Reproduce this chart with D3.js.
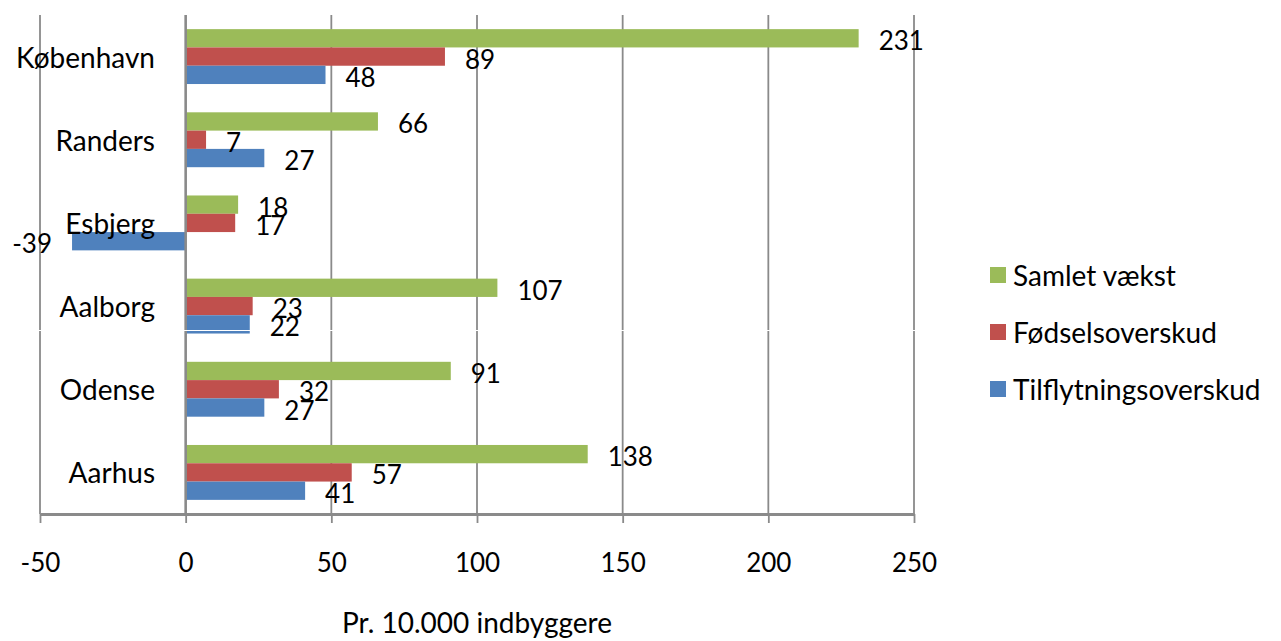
<!DOCTYPE html>
<html>
<head>
<meta charset="utf-8">
<script src="https://cdn.jsdelivr.net/npm/d3@7"></script>
<style>
  body { margin: 0; background: #fff; }
  text { font-family: Lato, "Open Sans", sans-serif; fill: #000; }
</style>
</head>
<body>
<div id="chart"></div>
<script>
var cities = ["København", "Randers", "Esbjerg", "Aalborg", "Odense", "Aarhus"];
var seriesNames = ["Samlet vækst", "Fødselsoverskud", "Tilflytningsoverskud"];
var samletVaekst = [231, 66, 18, 107, 91, 138];
var foedselsoverskud = [89, 7, 17, 23, 32, 57];
var tilflytningsoverskud = [48, 27, -39, 22, 27, 41];
var xTicks = [-50, 0, 50, 100, 150, 200, 250];
var colors = ["#9BBB59", "#C0504D", "#4F81BD"];

var width = 1281, height = 641,
    plotLeft = 40, plotRight = 914, plotTop = 15, plotBottom = 514;

var svg = d3.select("#chart").append("svg")
    .attr("width", width)
    .attr("height", height);

var x = d3.scaleLinear().domain([-50, 250]).range([plotLeft, plotRight]);
var y = d3.scaleBand().domain(cities).range([plotTop, plotBottom])
    .paddingInner(0.34).paddingOuter(0.17);
var ys = d3.scaleBand().domain(seriesNames).range([0, y.bandwidth()]);
var color = d3.scaleOrdinal().domain(seriesNames).range(colors);

var values = [samletVaekst, foedselsoverskud, tilflytningsoverskud];
var data = [];
cities.forEach(function(c, i) {
  seriesNames.forEach(function(s, j) {
    data.push({ city: c, series: s, value: values[j][i] });
  });
});

// gridlines
svg.append("g").selectAll("line")
    .data(xTicks.filter(function(t) { return t !== 0; }))
  .enter().append("line")
    .attr("x1", function(d) { return x(d); })
    .attr("x2", function(d) { return x(d); })
    .attr("y1", plotTop)
    .attr("y2", plotBottom)
    .attr("stroke", "#8a8a8a")
    .attr("stroke-width", 1.8);

// x axis
var xAxis = svg.append("g")
    .attr("transform", "translate(0," + plotBottom + ")")
    .call(d3.axisBottom(x).tickValues(xTicks)
      .tickFormat(function(d) { return String(d); })
      .tickSize(9).tickSizeOuter(0).tickPadding(31));
xAxis.select(".domain").attr("stroke", "#8a8a8a").attr("stroke-width", 3);
xAxis.selectAll(".tick line").attr("stroke", "#8a8a8a").attr("stroke-width", 1.8);
xAxis.selectAll(".tick text")
    .style("font-family", "Lato, sans-serif")
    .style("font-size", "26px")
    .attr("fill", "#000");

// bars
svg.append("g").selectAll("rect")
    .data(data)
  .enter().append("rect")
    .attr("x", function(d) { return x(Math.min(0, d.value)); })
    .attr("y", function(d) { return y(d.city) + ys(d.series); })
    .attr("width", function(d) { return Math.abs(x(d.value) - x(0)); })
    .attr("height", ys.bandwidth())
    .attr("fill", function(d) { return color(d.series); });

// category axis at zero
svg.append("line")
    .attr("x1", x(0)).attr("x2", x(0))
    .attr("y1", plotTop).attr("y2", plotBottom)
    .attr("stroke", "#8a8a8a")
    .attr("stroke-width", 2.6);

// faint white line across (as in the source image)
svg.append("line")
    .attr("x1", 0).attr("x2", width)
    .attr("y1", 330.5).attr("y2", 330.5)
    .attr("stroke", "#fff")
    .attr("stroke-width", 1);

// category labels
svg.append("g").selectAll("text")
    .data(cities)
  .enter().append("text")
    .attr("x", 155)
    .attr("y", function(d) { return y(d) + y.bandwidth() / 2; })
    .attr("text-anchor", "end")
    .attr("dominant-baseline", "central")
    .style("font-size", "28px")
    .text(function(d) { return d; });

// value labels
svg.append("g").selectAll("text")
    .data(data)
  .enter().append("text")
    .attr("x", function(d) { return d.value < 0 ? x(d.value) - 20 : x(d.value) + 20; })
    .attr("y", function(d) { return y(d.city) + ys(d.series) + ys.bandwidth() / 2 + 2; })
    .attr("text-anchor", function(d) { return d.value < 0 ? "end" : "start"; })
    .attr("dominant-baseline", "central")
    .style("font-size", "26px")
    .text(function(d) { return d.value; });

// axis title
svg.append("text")
    .attr("x", 477)
    .attr("y", 622)
    .attr("text-anchor", "middle")
    .attr("dominant-baseline", "central")
    .style("font-size", "28px")
    .text("Pr. 10.000 indbyggere");

// legend
var legend = svg.append("g").selectAll("g")
    .data(seriesNames)
  .enter().append("g")
    .attr("transform", function(d, i) { return "translate(990," + (275 + i * 57) + ")"; });
legend.append("rect")
    .attr("x", 0).attr("y", -8)
    .attr("width", 16).attr("height", 16)
    .attr("fill", function(d) { return color(d); });
legend.append("text")
    .attr("x", 23)
    .attr("y", 0)
    .attr("dominant-baseline", "central")
    .style("font-size", "28px")
    .text(function(d) { return d; });
</script>
</body>
</html>
